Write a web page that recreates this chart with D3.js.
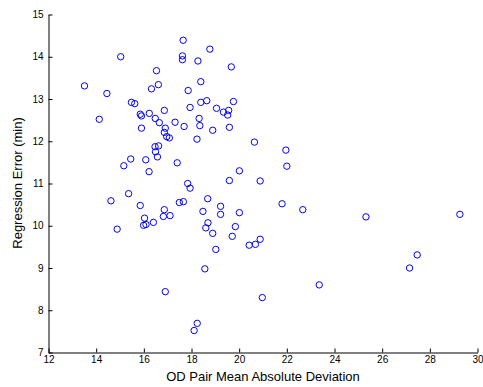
<!DOCTYPE html>
<html><head><meta charset="utf-8">
<script src="https://cdn.jsdelivr.net/npm/d3@7"></script>
<style>
html,body{margin:0;padding:0;background:#fff;}
text{font-family:"Liberation Sans",Arial,sans-serif;}
</style></head>
<body><svg id="c" width="483" height="387"></svg>
<script>
const xValues = [17.65,18.77,17.62,17.62,15.03,18.27,19.67,16.53,13.51,16.61,16.32,18.39,17.86,14.45,15.48,15.62,18.39,18.64,19.76,17.94,19.05,19.34,19.56,19.52,16.86,16.23,15.85,15.90,14.13,16.48,16.65,18.32,18.35,17.31,17.69,18.89,19.59,15.90,16.90,16.86,16.96,17.07,18.23,20.64,16.47,16.62,16.49,16.57,15.45,15.16,16.08,17.40,16.22,20.01,19.59,20.88,17.84,17.94,15.36,14.62,15.85,18.68,17.49,17.66,19.22,20.01,18.48,19.22,16.86,16.82,17.10,16.03,15.99,16.09,16.40,18.69,18.60,19.84,14.88,18.89,19.71,20.88,20.68,20.42,19.02,18.56,16.90,20.97,18.24,18.11,21.96,22.00,21.80,22.67,25.32,29.26,27.47,27.15,23.36];
const yValues = [14.39,14.18,14.02,13.93,14.00,13.90,13.76,13.67,13.31,13.34,13.24,13.41,13.20,13.13,12.92,12.89,12.92,12.96,12.94,12.80,12.78,12.69,12.73,12.62,12.73,12.66,12.64,12.60,12.52,12.54,12.44,12.54,12.37,12.45,12.35,12.26,12.33,12.31,12.31,12.21,12.11,12.08,12.05,11.98,11.87,11.89,11.75,11.63,11.58,11.42,11.56,11.49,11.28,11.30,11.07,11.06,11.00,10.89,10.76,10.59,10.48,10.64,10.55,10.57,10.46,10.31,10.34,10.27,10.38,10.22,10.24,10.18,10.01,10.03,10.08,10.07,9.95,9.98,9.92,9.82,9.75,9.68,9.56,9.54,9.44,8.98,8.44,8.30,7.69,7.52,11.79,11.41,10.52,10.38,10.21,10.27,9.31,9.00,8.60];
const xTicks = [12,14,16,18,20,22,24,26,28,30];
const yTicks = [7,8,9,10,11,12,13,14,15];
const xLabel = "OD Pair Mean Absolute Deviation";
const yLabel = "Regression Error (min)";

const svg = d3.select("#c");
const x = d3.scaleLinear().domain([12,30]).range([48.5,477.5]);
const y = d3.scaleLinear().domain([7,15]).range([352.5,14.5]);

const xAxis = svg.append("g").attr("transform","translate(0,352.5)")
  .call(d3.axisBottom(x).tickValues(xTicks).tickFormat(d3.format("d")).tickSizeInner(-4).tickSizeOuter(0).tickPadding(3));
const yAxis = svg.append("g").attr("transform","translate(48.5,0)")
  .call(d3.axisLeft(y).tickValues(yTicks).tickFormat(d3.format("d")).tickSizeInner(-4).tickSizeOuter(0).tickPadding(5));
[xAxis,yAxis].forEach(a=>{
  a.selectAll("path.domain").attr("stroke","#000").attr("stroke-width",1);
  a.selectAll(".tick line").attr("stroke","#000");
  a.selectAll("text").attr("fill","#000").style("font-size","10px").style("font-family","'Liberation Sans',Arial,sans-serif");
});

svg.append("g").selectAll("circle").data(xValues.map((v,i)=>[v,yValues[i]])).join("circle")
  .attr("cx",d=>x(d[0])).attr("cy",d=>y(d[1])).attr("r",3.2)
  .attr("fill","none").attr("stroke","#0000ff").attr("stroke-width",1);

svg.append("text").attr("x",263).attr("y",381).attr("text-anchor","middle")
  .style("font-size","13px").attr("fill","#000").text(xLabel);
svg.append("text").attr("transform","translate(22,183) rotate(-90)").attr("text-anchor","middle")
  .style("font-size","13px").attr("fill","#000").text(yLabel);
</script></body></html>
